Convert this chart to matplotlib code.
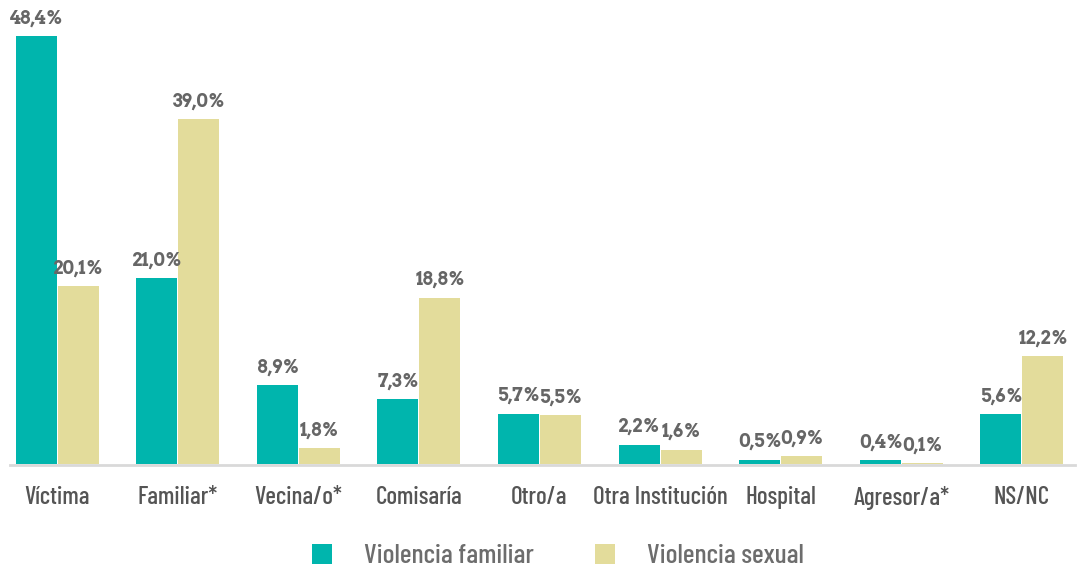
import numpy as np
import matplotlib.pyplot as plt

# Daten
categorias = ["Víctima", "Familiar*", "Vecina/o*", "Comisaría", "Otro/a",
              "Otra Institución", "Hospital", "Agresor/a*", "NS/NC"]
violencia_familiar = [48.4, 21.0, 8.9, 7.3, 5.7, 2.2, 0.5, 0.4, 5.6]
violencia_sexual = [20.1, 39.0, 1.8, 18.8, 5.5, 1.6, 0.9, 0.1, 12.2]
series_labels = ["Violencia familiar", "Violencia sexual"]

teal = "#00B5AD"
sand = "#E3DC9B"
cond_font = ["Barlow Condensed", "Roboto Condensed", "DejaVu Sans"]
slab_font = ["Arvo", "Roboto Slab", "DejaVu Serif"]

fig = plt.figure(figsize=(10.8, 5.71), dpi=100)
ax = fig.add_axes([10 / 1080, 107 / 571, 1065 / 1080, 442 / 571])

# Achsenlinie zuerst setzen (set_position setzt die Tick-Labels zurück)
for s in ("top", "right", "left"):
    ax.spines[s].set_visible(False)
ax.spines["bottom"].set_position(("data", -0.12))
ax.spines["bottom"].set_color("#d9d9d9")
ax.spines["bottom"].set_linewidth(2)
ax.spines["bottom"].set_zorder(2)

x = np.arange(len(categorias))
w = 0.34
b1 = ax.bar(x - w / 2 - 0.004, violencia_familiar, w, color=teal, label=series_labels[0], zorder=3)
b2 = ax.bar(x + w / 2 + 0.004, violencia_sexual, w, color=sand, label=series_labels[1], zorder=3)

def fmt(v):
    return f"{v:.1f}%".replace(".", ",")

for bars, vals in ((b1, violencia_familiar), (b2, violencia_sexual)):
    for rect, v in zip(bars, vals):
        ax.text(rect.get_x() + rect.get_width() / 2, v + 1.0, fmt(v),
                ha="center", va="bottom", fontsize=13, fontweight="bold",
                color="#666666", family=slab_font)

ax.set_xlim(-0.39, 8.44)
ax.set_ylim(0, 50)
ax.set_yticks([])
ax.set_xticks(x)
ax.set_xticklabels(categorias, fontsize=18, fontweight=500, color="#555555", family=cond_font)
ax.tick_params(axis="x", length=0, pad=15)

leg = fig.legend(loc="center", bbox_to_anchor=(0.517, 15 / 571), ncol=2,
                 frameon=False, handlelength=0.72, handleheight=0.72,
                 columnspacing=2.2, handletextpad=1.15,
                 prop={"family": cond_font, "size": 20, "weight": 500})
for t in leg.get_texts():
    t.set_color("#6d6d6d")

fig.savefig("out.png", dpi=100)
